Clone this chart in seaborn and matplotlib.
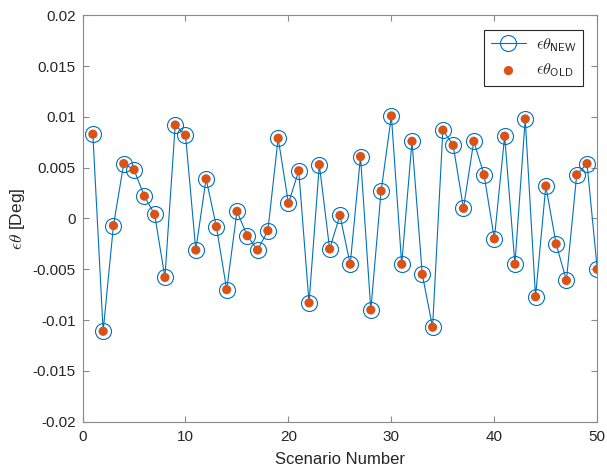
import numpy as np
import pandas as pd
import seaborn as sns
from matplotlib import pyplot as plt

scenario = list(range(1, 51))
err_new = [0.0083, -0.0111, -0.0007, 0.0054, 0.0048, 0.0022, 0.0004, -0.0058, 0.0092, 0.0082,
           -0.0031, 0.0039, -0.0008, -0.0070, 0.0007, -0.0017, -0.0031, -0.0012, 0.0079, 0.0015,
           0.0047, -0.0083, 0.0053, -0.0030, 0.0003, -0.0045, 0.0061, -0.0090, 0.0027, 0.0101,
           -0.0045, 0.0076, -0.0055, -0.0107, 0.0087, 0.0072, 0.0010, 0.0076, 0.0043, -0.0020,
           0.0081, -0.0045, 0.0098, -0.0077, 0.0032, -0.0025, -0.0061, 0.0043, 0.0054, -0.0050]
err_old = list(err_new)

x_ticks = [0, 10, 20, 30, 40, 50]
y_ticks = [-0.02, -0.015, -0.01, -0.005, 0, 0.005, 0.01, 0.015, 0.02]
y_tick_labels = ["-0.02", "-0.015", "-0.01", "-0.005", "0", "0.005", "0.01", "0.015", "0.02"]

BLUE = "#0072BD"
ORANGE = "#D95319"
AXCOL = "#8a8a8a"
TXTCOL = "#262626"

sns.set_style("white")
plt.rcParams["font.family"] = ["Liberation Sans", "DejaVu Sans"]
plt.rcParams["mathtext.fontset"] = "cm"

df = pd.DataFrame({"scenario": scenario, "new": err_new, "old": err_old})

fig = plt.figure(figsize=(6.07, 4.72), dpi=100)
ax = fig.add_axes([0.136, 0.1066, 0.848, 0.861])

sns.lineplot(data=df, x="scenario", y="new", ax=ax, color=BLUE, linewidth=0.8,
             marker="o", markersize=11.5, markerfacecolor="none", markeredgecolor=BLUE,
             markeredgewidth=0.8, label=r"$\epsilon\theta_{\mathsf{NEW}}$")
sns.scatterplot(data=df, x="scenario", y="old", ax=ax, color=ORANGE, s=44,
                edgecolor="none", zorder=3, label=r"$\epsilon\theta_{\mathsf{OLD}}$")

ax.set_xlim(0, 50)
ax.set_ylim(-0.02, 0.02)
ax.set_xticks(x_ticks)
ax.set_yticks(y_ticks)
ax.set_yticklabels(y_tick_labels)
ax.set_xlabel("Scenario Number", fontsize=12, color=TXTCOL, labelpad=6)
ax.set_ylabel(r"$\epsilon\theta$ [Deg]", fontsize=12.5, color=TXTCOL, labelpad=4)

for side in ["top", "right", "left", "bottom"]:
    ax.spines[side].set_visible(True)
    ax.spines[side].set_color(AXCOL)
    ax.spines[side].set_linewidth(0.8)
ax.tick_params(direction="in", length=4, width=0.8, color=AXCOL, labelsize=11,
               labelcolor=TXTCOL, top=True, right=True, bottom=True, left=True,
               labeltop=False, labelright=False)
ax.tick_params(axis="x", pad=6)
ax.tick_params(axis="y", pad=5)

leg = ax.legend(loc="upper right", fontsize=11.5, frameon=True, fancybox=False,
                borderaxespad=0.9, handlelength=2.2, handletextpad=0.6, labelspacing=0.5)
leg.get_frame().set_edgecolor(TXTCOL)
leg.get_frame().set_linewidth(0.8)
leg.get_frame().set_alpha(1)

fig.savefig("out.png", dpi=100)
